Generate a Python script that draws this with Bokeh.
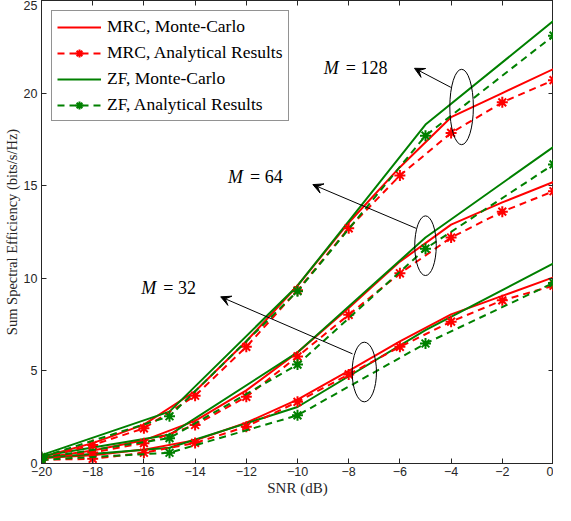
from bokeh.plotting import figure
from bokeh.models import (LinearAxis, Legend, LegendItem, Arrow, VeeHead, Label,
                          FixedTicker, Range1d)
from bokeh.embed import file_html
from bokeh.resources import INLINE

# ---------------- data ----------------
snr_mrc = [-20, -18, -16, -14, -12, -10, -8, -6, -4, -2, 0]
snr_zf = [-20, -15, -10, -5, 0]

mrc_mc_128 = [0.35, 1.1, 2.1, 3.9, 6.6, 9.6, 13.0, 16.0, 18.7, 20.0, 21.3]
mrc_mc_64 = [0.3, 0.7, 1.25, 2.3, 3.95, 6.0, 8.4, 10.9, 12.9, 14.1, 15.2]
mrc_mc_32 = [0.3, 0.45, 0.75, 1.25, 2.2, 3.45, 5.0, 6.6, 8.05, 9.05, 10.05]

mrc_an_128 = [0.3, 1.0, 1.9, 3.66, 6.3, 9.35, 12.7, 15.55, 17.85, 19.5, 20.7]
mrc_an_64 = [0.25, 0.6, 1.1, 2.08, 3.6, 5.78, 8.03, 10.27, 12.2, 13.6, 14.7]
mrc_an_32 = [0.2, 0.25, 0.58, 1.11, 1.99, 3.33, 4.81, 6.3, 7.66, 8.81, 9.6]

zf_mc_128 = [0.45, 2.8, 9.6, 18.3, 23.9]
zf_mc_64 = [0.4, 1.55, 6.0, 12.2, 17.1]
zf_mc_32 = [0.3, 0.85, 3.05, 7.2, 10.8]

zf_an_128 = [0.35, 2.55, 9.3, 17.7, 23.1]
zf_an_64 = [0.3, 1.37, 5.34, 11.6, 16.15]
zf_an_32 = [0.2, 0.58, 2.6, 6.48, 9.75]

x_ticks = [-20, -18, -16, -14, -12, -10, -8, -6, -4, -2, 0]
y_ticks = [0, 5, 10, 15, 20, 25]

legend_labels = ["MRC, Monte-Carlo", "MRC, Analytical Results",
                 "ZF, Monte-Carlo", "ZF, Analytical Results"]

# annotations (data coordinates)
ann_names = ["128", "64", "32"]
ell_x = [-3.59, -5.0, -7.39]
ell_y = [19.25, 11.76, 4.94]
ell_w = [0.92, 0.84, 0.95]
ell_h = [4.07, 3.22, 3.22]
arr_x0 = [-4.01, -5.37, -7.85]
arr_y0 = [20.31, 12.70, 5.92]
arr_x1 = [-5.43, -9.40, -13.0]
arr_y1 = [21.34, 15.06, 9.0]
lab_x = [-8.97, -12.71, -16.1]
lab_y = [21.35, 15.47, 9.48]

RED = "#ff0000"
GREEN = "#008000"
DASH = "7 5"
LW = 2

p = figure(width=553, height=499,
           x_range=Range1d(-20, 0), y_range=Range1d(0, 25),
           output_backend="svg", toolbar_location=None,
           min_border_left=37, min_border_right=0, min_border_top=0,
           min_border_bottom=36)
p.background_fill_color = "white"
p.border_fill_color = "white"
p.outline_line_color = "#262626"
p.outline_line_width = 1
p.xgrid.visible = False
p.ygrid.visible = False

TICK_FONT = "Liberation Sans"
LAB_FONT = "Liberation Serif"
TCOL = "#262626"

for ax in [p.xaxis[0], p.yaxis[0]]:
    ax.major_tick_in = 5
    ax.major_tick_out = 0
    ax.minor_tick_in = 0
    ax.minor_tick_out = 0
    ax.axis_line_color = TCOL
    ax.major_tick_line_color = TCOL
    ax.major_label_text_font = TICK_FONT
    ax.major_label_text_font_size = "12.5px"
    ax.major_label_text_color = TCOL
    ax.axis_label_text_font = LAB_FONT
    ax.axis_label_text_font_style = "normal"
    ax.axis_label_text_color = TCOL

p.xaxis[0].ticker = FixedTicker(ticks=x_ticks)
p.yaxis[0].ticker = FixedTicker(ticks=y_ticks)
p.xaxis[0].axis_label = "SNR (dB)"
p.yaxis[0].axis_label = "Sum Spectral Efficiency (bits/s/Hz)"
p.xaxis[0].axis_label_text_font_size = "15px"
p.yaxis[0].axis_label_text_font_size = "14.5px"
p.xaxis[0].major_label_standoff = 3
p.yaxis[0].major_label_standoff = 4
p.xaxis[0].axis_label_standoff = 1
p.yaxis[0].axis_label_standoff = 1

# top and right box ticks (no labels)
top = LinearAxis(ticker=FixedTicker(ticks=x_ticks),
                 major_label_overrides={t: "" for t in x_ticks},
                 major_tick_in=5, major_tick_out=0, minor_tick_in=0, minor_tick_out=0,
                 major_label_standoff=0, axis_line_color=TCOL, major_tick_line_color=TCOL)
right = LinearAxis(ticker=FixedTicker(ticks=y_ticks),
                   major_label_overrides={t: "" for t in y_ticks},
                   major_tick_in=5, major_tick_out=0, minor_tick_in=0, minor_tick_out=0,
                   major_label_standoff=0, axis_line_color=TCOL, major_tick_line_color=TCOL)
p.add_layout(top, "above")
p.add_layout(right, "right")

# ---------------- series ----------------
mrc_mc_r, mrc_an_r, mrc_an_s = [], [], []
zf_mc_r, zf_an_r, zf_an_s = [], [], []

for ys in [mrc_mc_128, mrc_mc_64, mrc_mc_32]:
    mrc_mc_r.append(p.line(snr_mrc, ys, line_color=RED, line_width=LW))
for ys in [zf_mc_128, zf_mc_64, zf_mc_32]:
    zf_mc_r.append(p.line(snr_zf, ys, line_color=GREEN, line_width=LW))
for ys in [mrc_an_128, mrc_an_64, mrc_an_32]:
    mrc_an_r.append(p.line(snr_mrc, ys, line_color=RED, line_width=LW, line_dash=DASH))
    mrc_an_s.append(p.scatter(snr_mrc, ys, marker="asterisk", size=11,
                              line_color=RED, line_width=2))
for ys in [zf_an_128, zf_an_64, zf_an_32]:
    zf_an_r.append(p.line(snr_zf, ys, line_color=GREEN, line_width=LW, line_dash=DASH))
    zf_an_s.append(p.scatter(snr_zf, ys, marker="asterisk", size=11,
                             line_color=GREEN, line_width=2))

# ---------------- annotations ----------------
p.ellipse(x=ell_x, y=ell_y, width=ell_w, height=ell_h, fill_color=None,
          line_color="black", line_width=1)
for i in range(3):
    p.add_layout(Arrow(end=VeeHead(size=10, line_color="black", fill_color="black",
                                   line_width=1),
                       x_start=arr_x0[i], y_start=arr_y0[i],
                       x_end=arr_x1[i], y_end=arr_y1[i],
                       line_color="black", line_width=1))
    p.add_layout(Label(x=lab_x[i], y=lab_y[i], text="M", text_font=LAB_FONT,
                       text_font_style="italic", text_font_size="18px",
                       text_baseline="middle", text_color="black"))
    p.add_layout(Label(x=lab_x[i], y=lab_y[i], x_offset=22, text="= " + ann_names[i],
                       text_font=LAB_FONT, text_font_size="18px",
                       text_baseline="middle", text_color="black"))

# ---------------- legend ----------------
items = [
    LegendItem(label=legend_labels[0], renderers=[mrc_mc_r[0]]),
    LegendItem(label=legend_labels[1], renderers=[mrc_an_r[0], mrc_an_s[0]]),
    LegendItem(label=legend_labels[2], renderers=[zf_mc_r[0]]),
    LegendItem(label=legend_labels[3], renderers=[zf_an_r[0], zf_an_s[0]]),
]
legend = Legend(items=items, location="top_left", margin=10, padding=5,
                spacing=5, glyph_width=44, glyph_height=20, label_standoff=6,
                label_text_font=LAB_FONT, label_text_font_size="17.5px",
                label_text_color="black", border_line_color="#262626",
                border_line_width=1, background_fill_alpha=1.0,
                label_height=20)
p.add_layout(legend)

open("out.html", "w").write(file_html(p, INLINE))
